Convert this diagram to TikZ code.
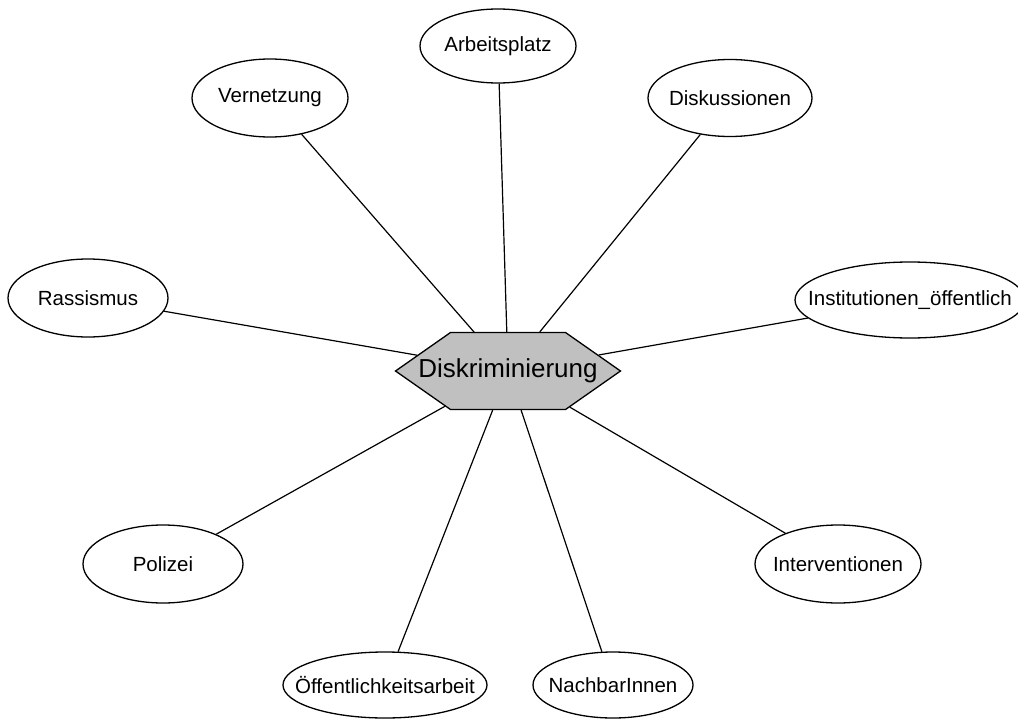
\documentclass[tikz,border=0pt]{standalone}
\usepackage{fontspec}
\setmainfont{Liberation Sans}
\usetikzlibrary{shapes.geometric,shapes.symbols}
\definecolor{hubgray}{HTML}{C0C0C0}
% zero-width label so that the ellipse size is set only by its minimum size
\newcommand\zw[1]{\makebox[0pt]{#1}}
\begin{document}
\begin{tikzpicture}[x=1pt,y=-1pt,
  topic/.style={ellipse, draw, line width=1.3pt, inner sep=0pt, fill=white,
    font=\fontsize{20.5}{24}\selectfont},
  hub/.style={signal, signal to=east and west, signal pointer angle=70,
    draw, line width=1.3pt, fill=hubgray, inner xsep=57.5pt, inner ysep=0pt,
    minimum height=77pt, font=\fontsize{26}{30}\selectfont},
  link/.style={line width=1.2pt}]
\useasboundingbox (0,0) rectangle (1018,720);
\fill[white] (0,0) rectangle (1018,720);
\begin{scope}
\clip (0,0) rectangle (1018,720);
% central topic
\node[hub] (disk) at (508,371) {\zw{Diskriminierung}};
% surrounding topics
\node[topic, minimum width=156pt, minimum height=74pt] (arb) at (498,46) {\zw{Arbeitsplatz}};
\node[topic, minimum width=156pt, minimum height=78pt] (vern) at (270,98) {\zw{Vernetzung}};
\node[topic, minimum width=164pt, minimum height=77pt] (diskus) at (730,98) {\zw{Diskussionen}};
\node[topic, minimum width=160pt, minimum height=78pt] (rass) at (88,298) {\zw{Rassismus}};
\node[topic, minimum width=230pt, minimum height=76pt] (inst) at (910,300) {\zw{Institutionen\_öffentlich}};
\node[topic, minimum width=160pt, minimum height=78pt] (pol) at (163,564) {\zw{Polizei}};
\node[topic, minimum width=166pt, minimum height=78pt] (interv) at (838,564) {\zw{Interventionen}};
\node[topic, minimum width=204pt, minimum height=66pt] (oeff) at (385,685) {\zw{Öffentlichkeitsarbeit}};
\node[topic, minimum width=160pt, minimum height=66pt] (nach) at (613,685) {\zw{NachbarInnen}};
% connectors
\foreach \t in {arb,vern,diskus,rass,inst,pol,interv,oeff,nach}
  \draw[link] (\t) -- (disk);
\end{scope}
\end{tikzpicture}
\end{document}
